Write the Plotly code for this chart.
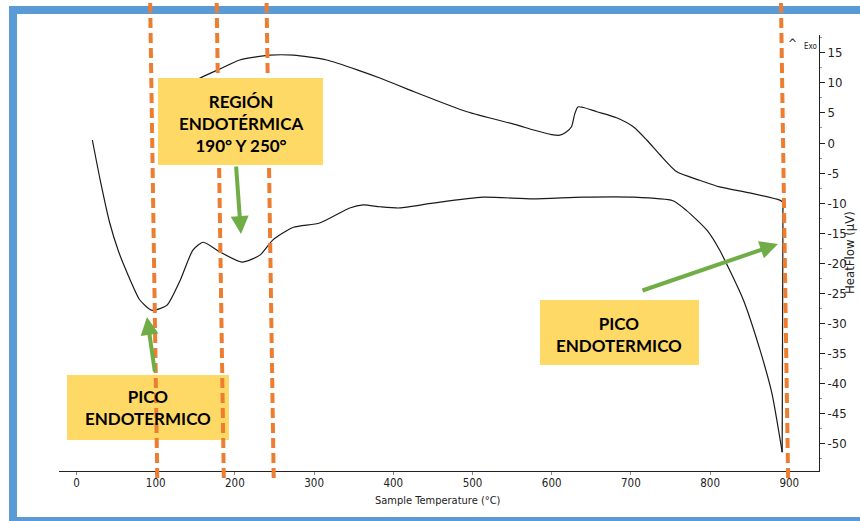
import plotly.graph_objects as go

# ---------------- data ----------------
heat_T = [20, 30, 42, 53, 64, 80, 95, 114, 131, 147, 160, 181, 209, 232, 248, 274,
          307, 345, 362, 383, 408, 450, 513, 576, 639, 703, 753, 770, 796, 812, 842,
          863, 878, 891]
heat_HF = [0.5, -6.2, -13.3, -18.0, -21.6, -26.1, -27.8, -27.0, -22.8, -17.8, -16.5,
           -18.1, -19.8, -18.6, -16.1, -14.0, -13.3, -10.8, -10.3, -10.6, -10.8, -10.0,
           -9.0, -9.3, -9.0, -9.0, -9.6, -11.2, -14.5, -17.8, -26.1, -34.4, -41.6, -51.4]

cool_T = [892, 888, 850, 812, 787, 758, 737, 720, 703, 682, 657, 640, 633, 629, 625,
          618, 610, 600, 576, 556, 493, 421, 383, 358, 316, 274, 244, 206, 181, 156, 140]
cool_HF = [-9.8, -9.5, -8.3, -7.3, -6.2, -4.8, -2.0, 0.5, 2.7, 4.2, 5.2, 5.9, 6.0, 4.8,
           2.7, 1.8, 1.3, 1.4, 2.2, 3.0, 5.2, 8.8, 10.8, 12.0, 13.8, 14.6, 14.6, 13.8,
           12.3, 10.8, 9.5]

x_ticks = [0, 100, 200, 300, 400, 500, 600, 700, 800, 900]
y_ticks = [15, 10, 5, 0, -5, -10, -15, -20, -25, -30, -35, -40, -45, -50]
y_ticktext = ["15", "10", "5", "0", "-5", "-10", "-15", "-20", "-25", "-30", "-35",
              "-40", "-45", "-50"]

# dashed marker lines (temperature at top / bottom of the drawn guide)
marker_top_T = [93, 177, 240, 889.5]
marker_bot_T = [102, 186, 249, 898.5]

# ---------------- layout geometry ----------------
W, H = 860, 521
L, R, T, B = 59, 819, 35, 471
PW, PH = R - L, B - T


def px(x):
    return (x - L) / PW


def py(y):
    return (B - y) / PH


ORANGE = "#ED7D31"
GREEN = "#70AD47"
YELLOW = "#FFD966"
BLUE = "#5B9BD5"
AXC = "#222222"
NARROW = "Liberation Sans Narrow, Arial Narrow, DejaVu Sans Condensed, Liberation Sans, sans-serif"
BOXFONT = "Lato, Calibri, Open Sans, sans-serif"

fig = go.Figure()
line_style = dict(color="#1a1a1a", width=1.2)
fig.add_trace(go.Scatter(x=heat_T, y=heat_HF, mode="lines",
                         line=dict(shape="spline", smoothing=0.6, **line_style),
                         hoverinfo="skip", showlegend=False))
fig.add_trace(go.Scatter(x=[heat_T[-1], cool_T[0]], y=[heat_HF[-1], cool_HF[0]],
                         mode="lines", line=line_style, hoverinfo="skip", showlegend=False))
fig.add_trace(go.Scatter(x=cool_T, y=cool_HF, mode="lines",
                         line=dict(shape="spline", smoothing=0.6, **line_style),
                         hoverinfo="skip", showlegend=False))

shapes = []
# blue frame
shapes.append(dict(type="rect", xref="paper", yref="paper",
                   x0=px(13), x1=px(880), y0=py(521), y1=py(10),
                   line=dict(color=BLUE, width=8), fillcolor="rgba(0,0,0,0)",
                   layer="above"))
# lower-left box (under dashed lines)
shapes.append(dict(type="rect", xref="paper", yref="paper",
                   x0=px(67), x1=px(229), y0=py(440), y1=py(375),
                   line=dict(width=0), fillcolor=YELLOW, layer="above"))
# dashed guides
for t0, t1 in zip(marker_top_T, marker_bot_T):
    shapes.append(dict(type="line", xref="x", yref="paper",
                       x0=t0, x1=t1, y0=py(3), y1=py(479),
                       line=dict(color=ORANGE, width=4, dash="10px,5px"),
                       layer="above"))
# upper box (over dashed lines)
shapes.append(dict(type="rect", xref="paper", yref="paper",
                   x0=px(158), x1=px(323), y0=py(165), y1=py(78),
                   line=dict(width=0), fillcolor=YELLOW, layer="above"))
# right box
shapes.append(dict(type="rect", xref="paper", yref="paper",
                   x0=px(540), x1=px(699), y0=py(365), y1=py(300),
                   line=dict(width=0), fillcolor=YELLOW, layer="above"))

annotations = []
boxfont = dict(family=BOXFONT, size=17, color="black")


def label(x, y, text, font, **kw):
    d = dict(xref="paper", yref="paper", x=px(x), y=py(y), text=text,
             showarrow=False, font=font, xanchor="center", yanchor="middle",
             align="center")
    d.update(kw)
    annotations.append(d)


label(240.5, 123, "<b>REGIÓN<br>ENDOTÉRMICA<br>190° Y 250°</b>", boxfont)
label(148, 407, "<b>PICO<br>ENDOTERMICO</b>", boxfont)
label(619, 334, "<b>PICO<br>ENDOTERMICO</b>", boxfont)

# green arrows (tip, tail offset in pixels)
arrows = [((147, 317), (155, 373)), ((241, 234), (236, 165)), ((778, 244), (641, 291))]
for (tx, ty), (sx, sy) in arrows:
    annotations.append(dict(xref="paper", yref="paper", x=px(tx), y=py(ty),
                            ax=sx - tx, ay=sy - ty, text="", showarrow=True,
                            arrowhead=2, arrowsize=0.9, arrowwidth=4,
                            arrowcolor=GREEN, standoff=0, startstandoff=0))
# axis titles / labels
label(438, 500, "Sample Temperature (°C)", dict(family=NARROW, size=11, color=AXC))
label(849, 253, "HeatFlow (µV)", dict(family=NARROW, size=13, color=AXC), textangle=-90)
label(792, 44, "^", dict(family=NARROW, size=12, color=AXC))
label(811, 46, "Exo", dict(family=NARROW, size=8, color=AXC))

fig.update_layout(
    width=W, height=H, autosize=False,
    margin=dict(l=L, r=W - R, t=T, b=H - B, pad=0),
    paper_bgcolor="white", plot_bgcolor="white",
    shapes=shapes, annotations=annotations,
    xaxis=dict(range=[(L - 76.5) / 0.792, (R - 76.5) / 0.792],
               showline=True, linecolor=AXC, linewidth=1, mirror=False,
               ticks="outside", ticklen=3, tickcolor="#888",
               tickvals=x_ticks, showgrid=False, zeroline=False,
               ticklabelstandoff=-2,
               tickfont=dict(family=NARROW, size=11.5, color=AXC)),
    yaxis=dict(range=[(143 - B) / 6.015, (143 - T) / 6.015], side="right",
               showline=True, linecolor=AXC, linewidth=1,
               ticks="outside", ticklen=5, tickcolor=AXC,
               tickvals=y_ticks, ticktext=y_ticktext, showgrid=False, zeroline=False,
               minor=dict(ticks="outside", ticklen=2, dtick=2.5, tickcolor="#999"),
               tickfont=dict(family=NARROW, size=13, color=AXC)),
)

fig.write_html("out.html")
